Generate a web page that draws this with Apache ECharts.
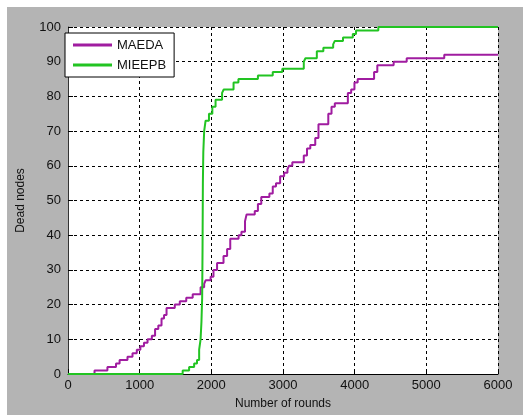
<!DOCTYPE html>
<html>
<head>
<meta charset="utf-8">
<script src="https://cdn.jsdelivr.net/npm/echarts@6/dist/echarts.min.js"></script>
<style>
  html, body { margin: 0; padding: 0; background: #ffffff; width: 523px; height: 415px; overflow: hidden; }
  #chart { position: absolute; left: 7px; top: 7px; width: 516px; height: 408px; }
</style>
</head>
<body>
<div id="chart"></div>
<script>
// Series names
var seriesNames = ['MAEDA', 'MIEEPB'];

// MAEDA: round at which the dead-node count steps to the given value
var roundsMAEDA = [0, 370, 550, 670, 720, 830, 900, 960, 1010, 1060, 1110, 1170, 1215, 1260, 1305, 1340, 1375, 1490, 1560, 1650, 1740, 1850, 1900, 1920, 1990, 2030, 2080, 2170, 2220, 2264, 2380, 2420, 2470, 2492, 2606, 2650, 2697, 2810, 2857, 2902, 2960, 3016, 3062, 3085, 3130, 3290, 3335, 3381, 3450, 3495, 3632, 3677, 3723, 3905, 3951, 3997, 4042, 4271, 4316, 4544, 4726, 5250, 6000];
var deadMAEDA   = [0, 1, 2, 3, 4, 5, 6, 7, 8, 9, 10, 11, 13, 14, 16, 17, 19, 20, 21, 22, 23, 25, 26, 27, 28, 30, 32, 34, 36, 39, 40, 41, 44, 46, 47, 49, 51, 52, 54, 55, 57, 58, 59, 60, 61, 63, 65, 66, 68, 72, 75, 77, 78, 81, 82, 84, 85, 87, 89, 90, 91, 92, 92];

// MIEEPB
var roundsMIEEPB = [0, 1600, 1690, 1760, 1800, 1830, 1850, 1862, 1872, 1877, 1882, 1888, 1900, 1920, 1967, 2014, 2059, 2150, 2173, 2310, 2378, 2650, 2857, 2990, 3290, 3313, 3472, 3563, 3700, 3723, 3837, 3974, 4019, 4330, 6000];
var deadMIEEPB   = [0, 1, 2, 3, 4, 7, 10, 15, 22, 35, 55, 64, 70, 73, 75, 77, 79, 81, 82, 84, 85, 86, 87, 88, 90, 91, 93, 94, 95, 96, 97, 98, 99, 100, 100];

// Axis settings
var xMin = 0, xMax = 6000, xStep = 1000;
var yMin = 0, yMax = 100, yStep = 10;

function pairs(xs, ys) {
  var out = [];
  for (var i = 0; i < xs.length; i++) out.push([xs[i], ys[i]]);
  return out;
}

var chart = echarts.init(document.getElementById('chart'), null, { renderer: 'canvas' });
var font = '"Liberation Sans", Arial, sans-serif';
var gridLine = { show: true, lineStyle: { color: '#000', width: 1, type: [3, 3] } };

chart.setOption({
  animation: false,
  backgroundColor: '#b4b4b4',
  textStyle: { fontFamily: font },
  grid: { left: 53, right: 25, top: 20, bottom: 37, show: true, backgroundColor: '#ffffff', borderWidth: 0 },
  legend: {
    left: 58, top: 26,
    orient: 'vertical',
    backgroundColor: '#ffffff',
    borderColor: '#000',
    borderWidth: 1,
    borderRadius: 0,
    padding: [5, 8, 5, 8],
    itemGap: 6,
    itemWidth: 39,
    itemHeight: 3,
    icon: 'rect',
    textStyle: { fontFamily: font, fontSize: 13, color: '#111', lineHeight: 14 },
    data: seriesNames
  },
  xAxis: {
    type: 'value', min: xMin, max: xMax, interval: xStep,
    name: 'Number of rounds', nameLocation: 'middle', nameGap: 24,
    nameTextStyle: { fontFamily: font, fontSize: 12, color: '#111' },
    axisLine: { show: true, onZero: false, lineStyle: { color: '#000', width: 1 } },
    axisTick: { show: true, inside: true, length: 5, lineStyle: { color: '#000' } },
    axisLabel: { fontFamily: font, fontSize: 13, color: '#111', margin: 5, formatter: function (v) { return String(v); } },
    splitLine: gridLine
  },
  yAxis: {
    type: 'value', min: yMin, max: yMax, interval: yStep,
    name: 'Dead nodes', nameLocation: 'middle', nameGap: 41,
    nameTextStyle: { fontFamily: font, fontSize: 12, color: '#111' },
    axisLine: { show: true, lineStyle: { color: '#333', width: 1 } },
    axisTick: { show: true, inside: true, length: 5, lineStyle: { color: '#000' } },
    axisLabel: { fontFamily: font, fontSize: 13, color: '#111', margin: 7 },
    splitLine: gridLine
  },
  series: [
    {
      name: seriesNames[0], type: 'line', step: 'end', showSymbol: false, symbol: 'none',
      data: pairs(roundsMAEDA, deadMAEDA),
      itemStyle: { color: '#a01ca0' },
      lineStyle: { color: '#a01ca0', width: 2 }
    },
    {
      name: seriesNames[1], type: 'line', step: 'end', showSymbol: false, symbol: 'none',
      data: pairs(roundsMIEEPB, deadMIEEPB),
      itemStyle: { color: '#22c422' },
      lineStyle: { color: '#22c422', width: 2 }
    }
  ]
});
</script>
</body>
</html>
